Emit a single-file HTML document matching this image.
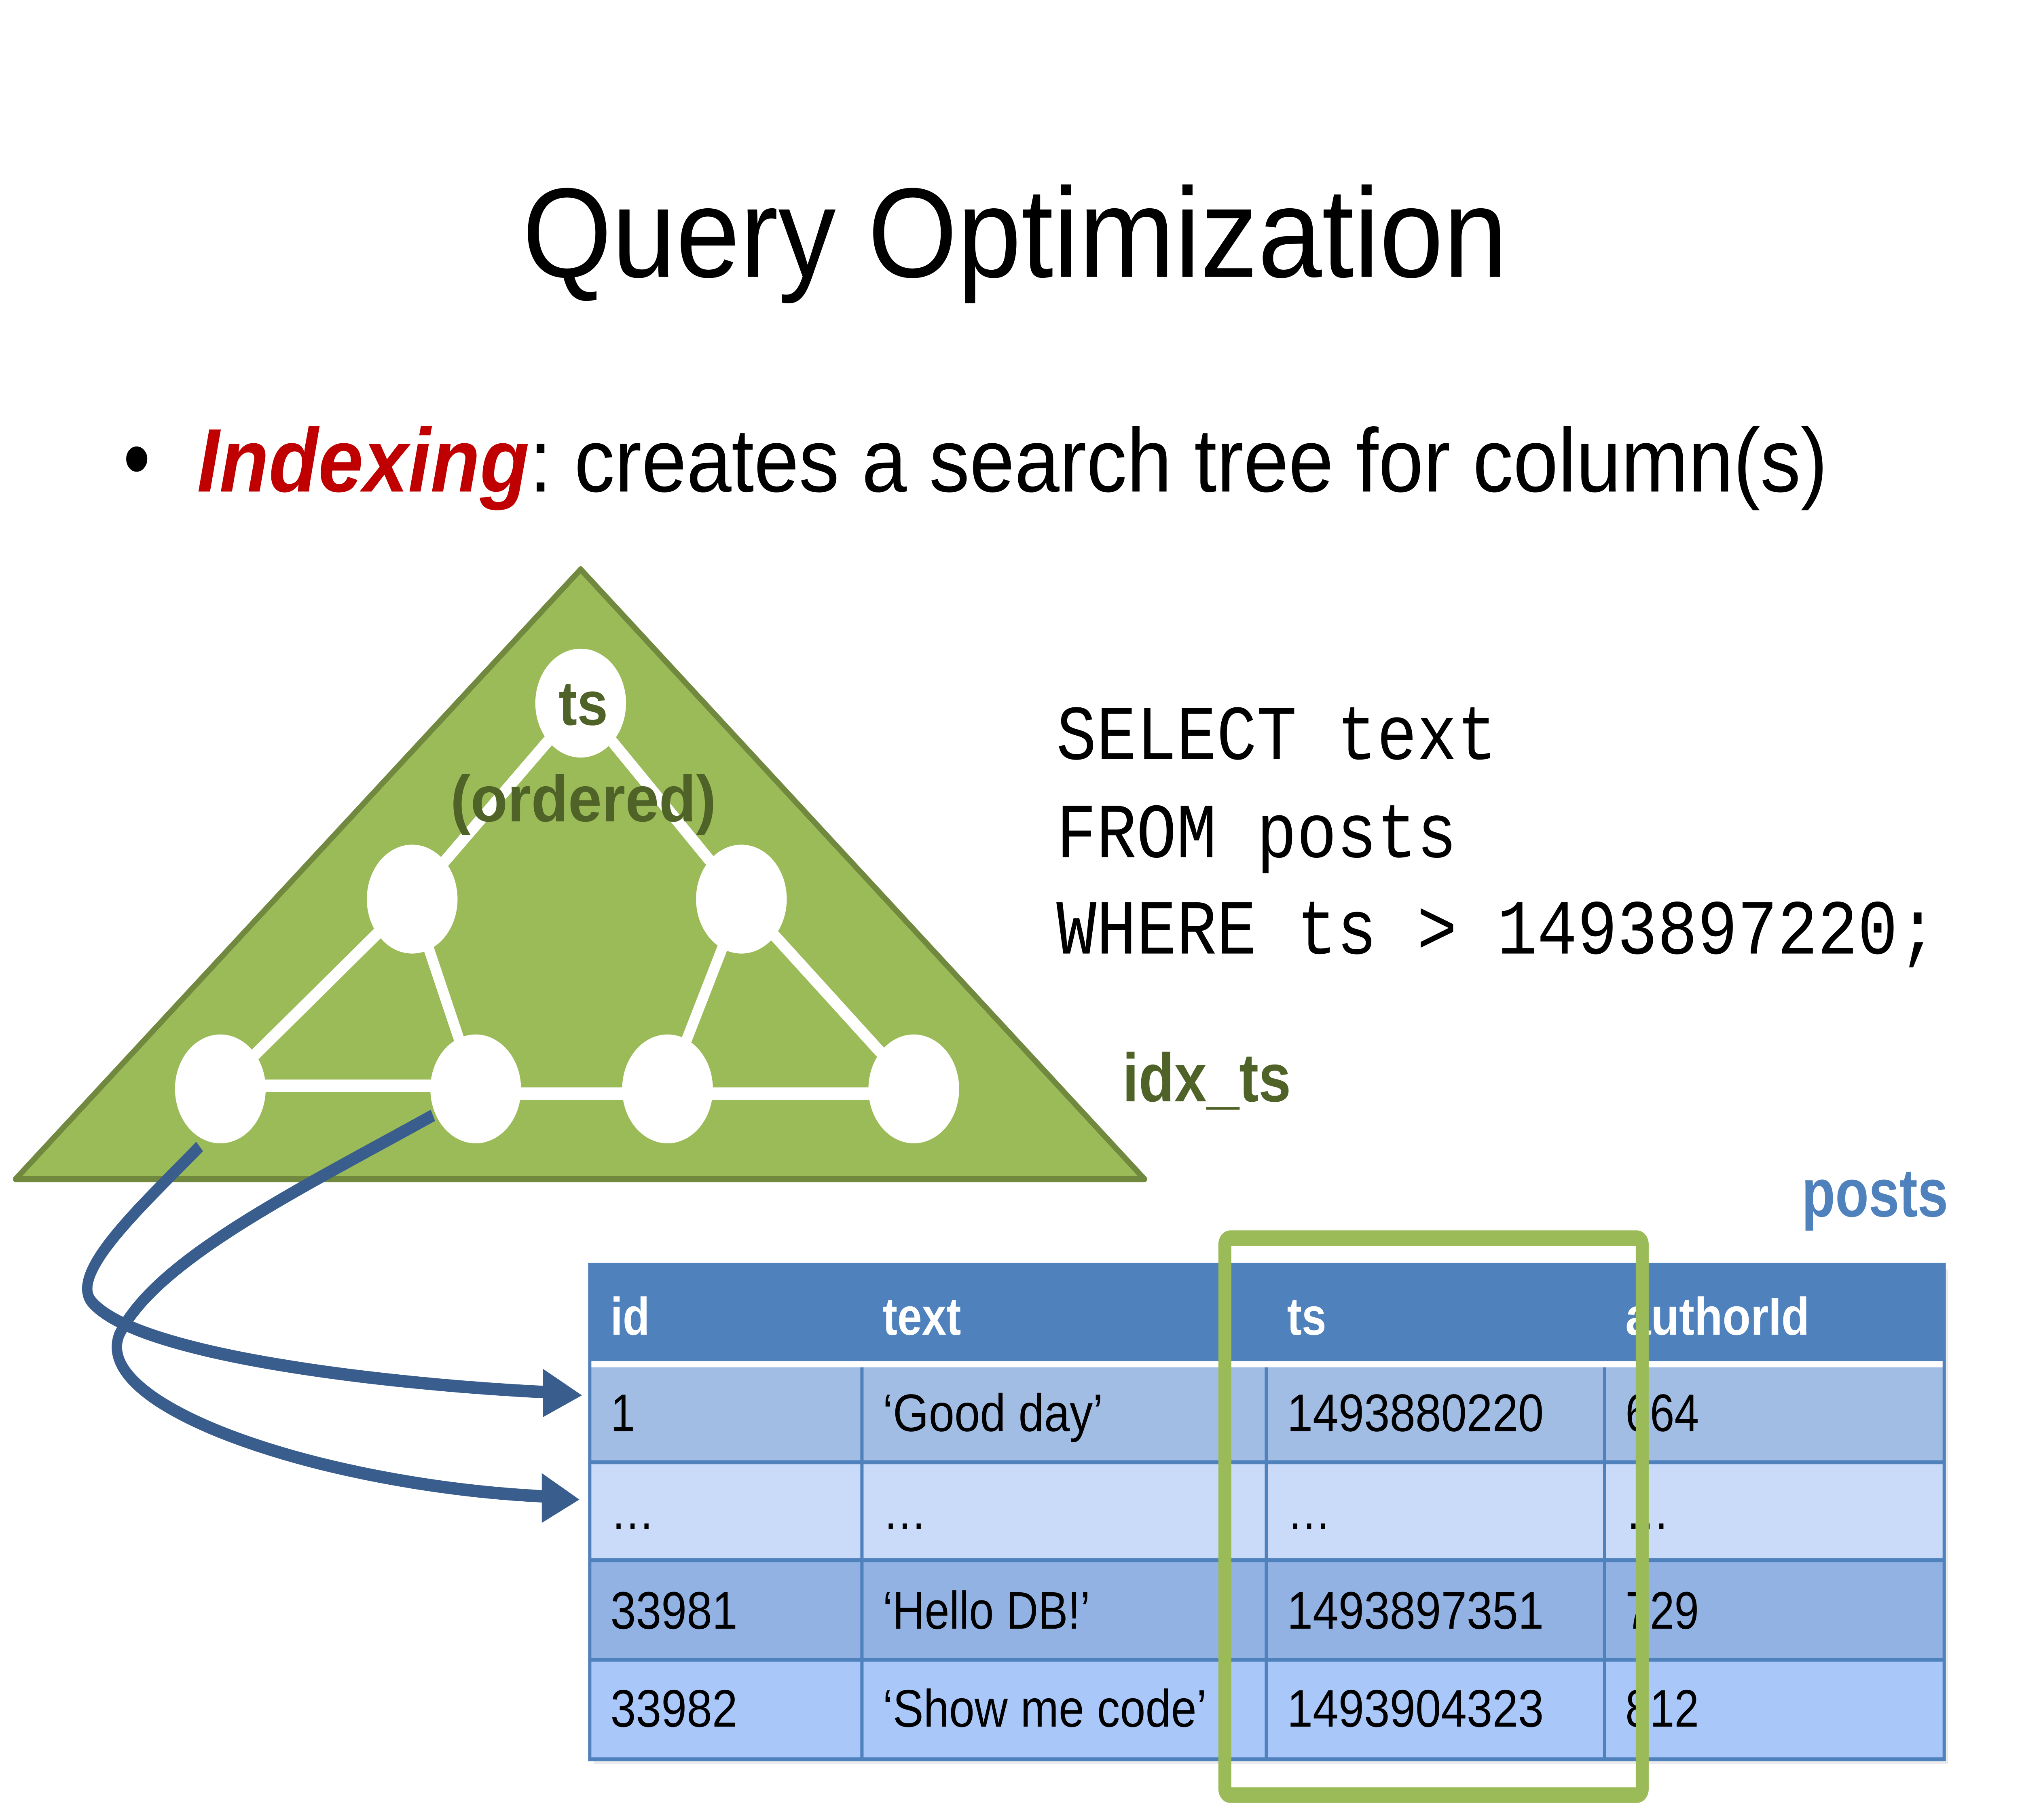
<!DOCTYPE html>
<html><head><meta charset="utf-8"><style>
html,body{margin:0;padding:0;background:#fff;overflow:hidden;width:100vw;height:100vh;}
svg{display:block;width:100vw;height:100vh;}
</style></head><body>
<svg viewBox="0 0 1560 1170" preserveAspectRatio="none" xmlns="http://www.w3.org/2000/svg">
<rect width="1560" height="1170" fill="#fff"/>
<text x="783" y="178" font-family="Liberation Sans, sans-serif" font-size="82" text-anchor="middle" textLength="760" lengthAdjust="spacingAndGlyphs">Query Optimization</text>
<text x="95" y="315" font-family="Liberation Sans, sans-serif" font-size="60">•</text>
<text x="152" y="316" font-family="Liberation Sans, sans-serif" font-size="58" textLength="1258" lengthAdjust="spacingAndGlyphs"><tspan fill="#C00000" font-weight="bold" font-style="italic">Indexing</tspan>: creates a search tree for column(s)</text>

<polygon points="448,366 12,758 883,758" fill="#9BBB59" stroke="#71893F" stroke-width="4" stroke-linejoin="round"/>
<g stroke="#fff" stroke-width="8">
<line x1="448" y1="452" x2="318" y2="578"/><line x1="448" y1="452" x2="572" y2="578"/>
<line x1="318" y1="578" x2="170" y2="700"/><line x1="318" y1="578" x2="367" y2="700"/>
<line x1="572" y1="578" x2="515" y2="700"/><line x1="572" y1="578" x2="705" y2="700"/>
<line x1="170" y1="698" x2="367" y2="698"/><line x1="367" y1="703" x2="705" y2="703"/>
</g>
<g fill="#fff">
<circle cx="448" cy="452" r="35"/><circle cx="318" cy="578" r="35"/><circle cx="572" cy="578" r="35"/>
<circle cx="170" cy="700" r="35"/><circle cx="367" cy="700" r="35"/><circle cx="515" cy="700" r="35"/><circle cx="705" cy="700" r="35"/>
</g>
<text x="450" y="466" font-family="Liberation Sans, sans-serif" font-size="40" font-weight="bold" fill="#4F6228" text-anchor="middle" textLength="38" lengthAdjust="spacingAndGlyphs">ts</text>
<text x="450" y="528" font-family="Liberation Sans, sans-serif" font-size="42" font-weight="bold" fill="#4F6228" text-anchor="middle" textLength="205" lengthAdjust="spacingAndGlyphs">(ordered)</text>

<g font-family="Liberation Mono, monospace" font-size="50" fill="#000">
<text x="815" y="488" textLength="340" lengthAdjust="spacingAndGlyphs">SELECT text</text>
<text x="815" y="551" textLength="309" lengthAdjust="spacingAndGlyphs">FROM posts</text>
<text x="815" y="613" textLength="680" lengthAdjust="spacingAndGlyphs">WHERE ts &gt; 1493897220;</text>
</g>
<text x="866" y="708" font-family="Liberation Sans, sans-serif" font-size="44" font-weight="bold" fill="#4F6228" textLength="130" lengthAdjust="spacingAndGlyphs">idx_ts</text>
<text x="1503" y="782" font-family="Liberation Sans, sans-serif" font-size="44" font-weight="bold" fill="#4F81BD" text-anchor="end" textLength="113" lengthAdjust="spacingAndGlyphs">posts</text>

<rect x="458" y="816" width="1045" height="318" fill="#ddd" opacity="0.6"/>
<rect x="455" y="813" width="1045" height="62" fill="#4F81BD"/>
<rect x="455" y="875" width="1045" height="4" fill="#fff"/>
<rect x="455" y="879" width="1045" height="61" fill="#A2BDE4"/>
<rect x="455" y="940" width="1045" height="63" fill="#C9DBF9"/>
<rect x="455" y="1003" width="1045" height="64" fill="#92B2E3"/>
<rect x="455" y="1067" width="1045" height="63" fill="#A9C7F9"/>
<g stroke="#4F81BD" stroke-width="2.5">
<line x1="455" y1="940" x2="1500" y2="940"/><line x1="455" y1="1003" x2="1500" y2="1003"/><line x1="455" y1="1067" x2="1500" y2="1067"/>
<line x1="665" y1="879" x2="665" y2="1130"/><line x1="977" y1="879" x2="977" y2="1130"/><line x1="1238" y1="879" x2="1238" y2="1130"/>
</g>
<rect x="455" y="813" width="1045" height="318" fill="none" stroke="#4F81BD" stroke-width="2.5"/>
<g font-family="Liberation Sans, sans-serif" font-size="34">
<g fill="#fff" font-weight="bold">
<text x="471" y="858">id</text><text x="681" y="858">text</text><text x="993" y="858">ts</text><text x="1254" y="858" textLength="142" lengthAdjust="spacingAndGlyphs">authorId</text>
</g>
<g fill="#000">
<text x="471" y="920">1</text><text x="681" y="920" textLength="170" lengthAdjust="spacingAndGlyphs">‘Good day’</text><text x="993" y="920" textLength="198" lengthAdjust="spacingAndGlyphs">1493880220</text><text x="1254" y="920">664</text>
<text x="471" y="983">…</text><text x="681" y="983">…</text><text x="993" y="983">…</text><text x="1254" y="983">…</text>
<text x="471" y="1047" textLength="98" lengthAdjust="spacingAndGlyphs">33981</text><text x="681" y="1047" textLength="160" lengthAdjust="spacingAndGlyphs">‘Hello DB!’</text><text x="993" y="1047" textLength="198" lengthAdjust="spacingAndGlyphs">1493897351</text><text x="1254" y="1047">729</text>
<text x="471" y="1110" textLength="98" lengthAdjust="spacingAndGlyphs">33982</text><text x="681" y="1110" textLength="250" lengthAdjust="spacingAndGlyphs">‘Show me code’</text><text x="993" y="1110" textLength="198" lengthAdjust="spacingAndGlyphs">1493904323</text><text x="1254" y="1110">812</text>
</g>
</g>
<rect x="945" y="796" width="322" height="358" rx="4" fill="none" stroke="#9BBB59" stroke-width="10"/>

<g fill="none" stroke="#395D8C" stroke-width="8">
<path d="M154,737 C110,775 50,820 72,838 C110,872 300,890 422,895"/>
<path d="M334,717 C230,765 120,810 92,858 C70,905 250,955 420,962"/>
</g>
<g fill="#395D8C">
<polygon points="419,880 449,897 419,911"/>
<polygon points="418,947 447,964 418,979"/>
</g>
</svg>
</body></html>
